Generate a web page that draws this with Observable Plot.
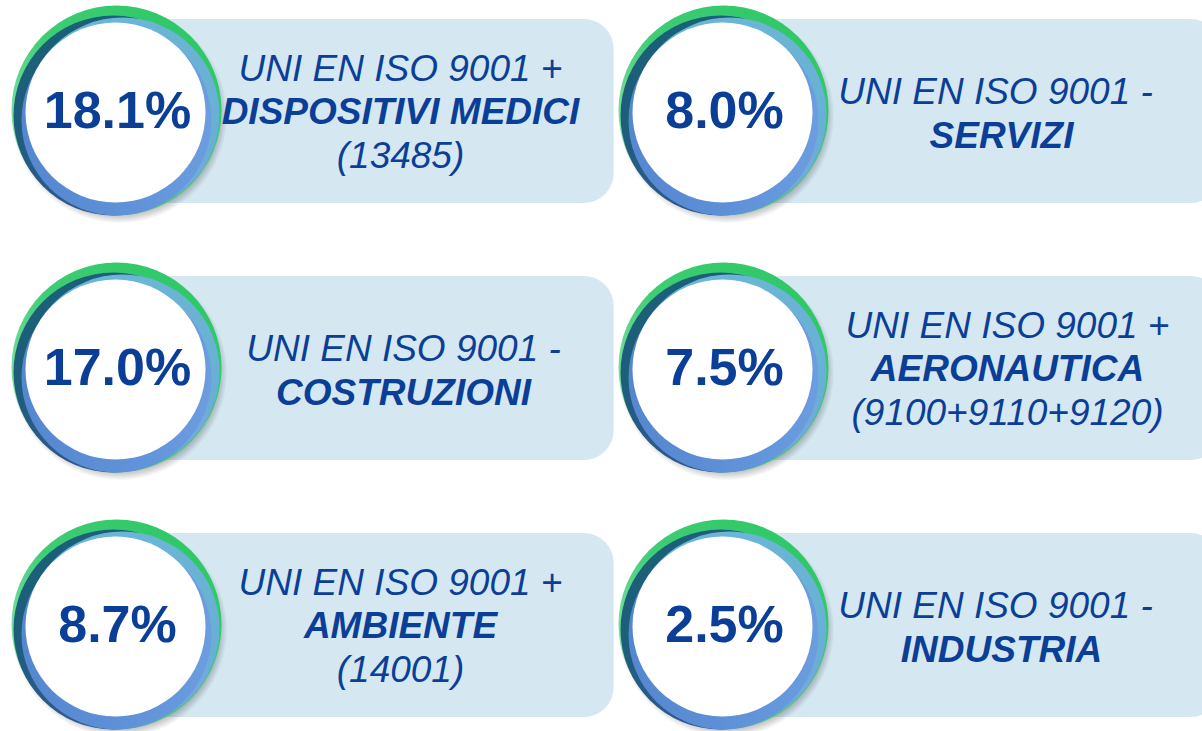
<!DOCTYPE html>
<html>
<head>
<meta charset="utf-8">
<script src="https://cdn.jsdelivr.net/npm/d3@7"></script>
<script src="https://cdn.jsdelivr.net/npm/@observablehq/plot@0.6"></script>
<style>
  html, body { margin: 0; padding: 0; background: #fff; overflow: hidden; }
  #chart svg { display: block; }
</style>
</head>
<body>
<div id="chart"></div>
<script>
// ---- data, reading order: row by row ----
const shares = [18.1, 8.0, 17.0, 7.5, 8.7, 2.5];
const headLines = ["UNI EN ISO 9001 +", "UNI EN ISO 9001 -", "UNI EN ISO 9001 -", "UNI EN ISO 9001 +", "UNI EN ISO 9001 +", "UNI EN ISO 9001 -"];
const sectors = ["DISPOSITIVI MEDICI", "SERVIZI", "COSTRUZIONI", "AERONAUTICA", "AMBIENTE", "INDUSTRIA"];
const standards = ["(13485)", "", "", "(9100+9110+9120)", "(14001)", ""];

const ncol = 2;
const data = shares.map((v, i) => ({
  value: v,
  head: headLines[i],
  sector: sectors[i],
  code: standards[i],
  col: i % ncol,
  row: Math.floor(i / ncol)
}));

const textColor = "#0b3f97";
const font = "'Liberation Sans', Arial, sans-serif";

// gradient definitions as a custom render mark
function defsMark() {
  const g = d3.create("svg:g");
  const defs = g.append("defs");
  function lin(id, x1, y1, x2, y2, stops) {
    const lg = defs.append("linearGradient").attr("id", id)
      .attr("x1", x1).attr("y1", y1).attr("x2", x2).attr("y2", y2);
    stops.forEach(([o, c, op]) => lg.append("stop").attr("offset", o).attr("stop-color", c).attr("stop-opacity", op ?? 1));
  }
  lin("gGreen", 0, 0.6, 0.8, 0, [[0, "#7ee0a4"], [0.4, "#3fcc75"], [1, "#2ec866"]]);
  lin("gDark", 0, 0, 0, 1, [[0, "#1a6078"], [0.55, "#1d5e7a"], [1, "#2f5890"]]);
  lin("gLight", 0, 0, 0, 1, [[0, "#6bb5d6"], [0.6, "#68afd5"], [1, "#80a4e3"]]);
  lin("gMid", 0, 0, 1, 0, [[0, "#5587d0"], [0.5, "#5e90d8"], [1, "#6c9de0"]]);
  const rg = defs.append("radialGradient").attr("id", "gShadow");
  rg.append("stop").attr("offset", 0.88).attr("stop-color", "#000").attr("stop-opacity", 0.35);
  rg.append("stop").attr("offset", 1).attr("stop-color", "#000").attr("stop-opacity", 0);
  return g.node();
}

const common = { x: "col", y: "row" };
const labelStyle = { fontSize: 37, fontStyle: "italic", fontFamily: font, fill: textColor, lineAnchor: "bottom" };

const chart = Plot.plot({
  width: 1202,
  height: 731,
  margin: 0,
  style: { background: "#fff", overflow: "hidden" },
  x: { domain: [0, 1], range: [116, 723], axis: null },
  y: { domain: [0, 2], range: [111, 625], axis: null },
  marks: [
    defsMark,
    // panels
    Plot.rect(data, {
      x1: d => d.col - 0.003, x2: d => d.col + 0.82,
      y1: d => d.row - 0.358, y2: d => d.row + 0.358,
      fill: "#d5e8f2", rx: 30
    }),
    // ring layers
    Plot.dot(data, { ...common, r: 108, dx: 3, dy: 4, fill: "url(#gShadow)", stroke: "none" }),
    Plot.dot(data, { ...common, r: 105, dx: 0, dy: -1, fill: "url(#gGreen)", stroke: "none" }),
    Plot.dot(data, { ...common, r: 100, dx: -3, dy: 4, fill: "url(#gDark)", stroke: "none" }),
    Plot.dot(data, { ...common, r: 97, dx: 6, dy: 3, fill: "url(#gLight)", stroke: "none" }),
    Plot.dot(data, { ...common, r: 95, dx: 0, dy: 9, fill: "url(#gMid)", stroke: "none" }),
    Plot.dot(data, { ...common, r: 90, dx: -1, dy: 1, fill: "#ffffff", stroke: "none" }),
    // percentages
    Plot.text(data, {
      ...common, dx: 1, text: d => d3.format(".1f")(d.value) + "%",
      fontSize: 52, fontWeight: "bold", fontFamily: font, fill: textColor
    }),
    // three-line labels
    Plot.text(data, { ...common, ...labelStyle, filter: d => d.code, text: "head", dx: 284, dy: -31 }),
    Plot.text(data, { ...common, ...labelStyle, filter: d => d.code, text: "sector", dx: 284, dy: 12, fontWeight: "bold" }),
    Plot.text(data, { ...common, ...labelStyle, filter: d => d.code, text: "code", dx: 284, dy: 56 }),
    // two-line labels, left column
    Plot.text(data, { ...common, ...labelStyle, filter: d => !d.code && d.col === 0, text: "head", dx: 287, dy: -8 }),
    Plot.text(data, { ...common, ...labelStyle, filter: d => !d.code && d.col === 0, text: "sector", dx: 287, dy: 36, fontWeight: "bold" }),
    // two-line labels, right column
    Plot.text(data, { ...common, ...labelStyle, filter: d => !d.code && d.col === 1, text: "head", dx: 272, dy: -8 }),
    Plot.text(data, { ...common, ...labelStyle, filter: d => !d.code && d.col === 1, text: "sector", dx: 278, dy: 36, fontWeight: "bold" })
  ]
});

document.getElementById("chart").appendChild(chart);
</script>
</body>
</html>
